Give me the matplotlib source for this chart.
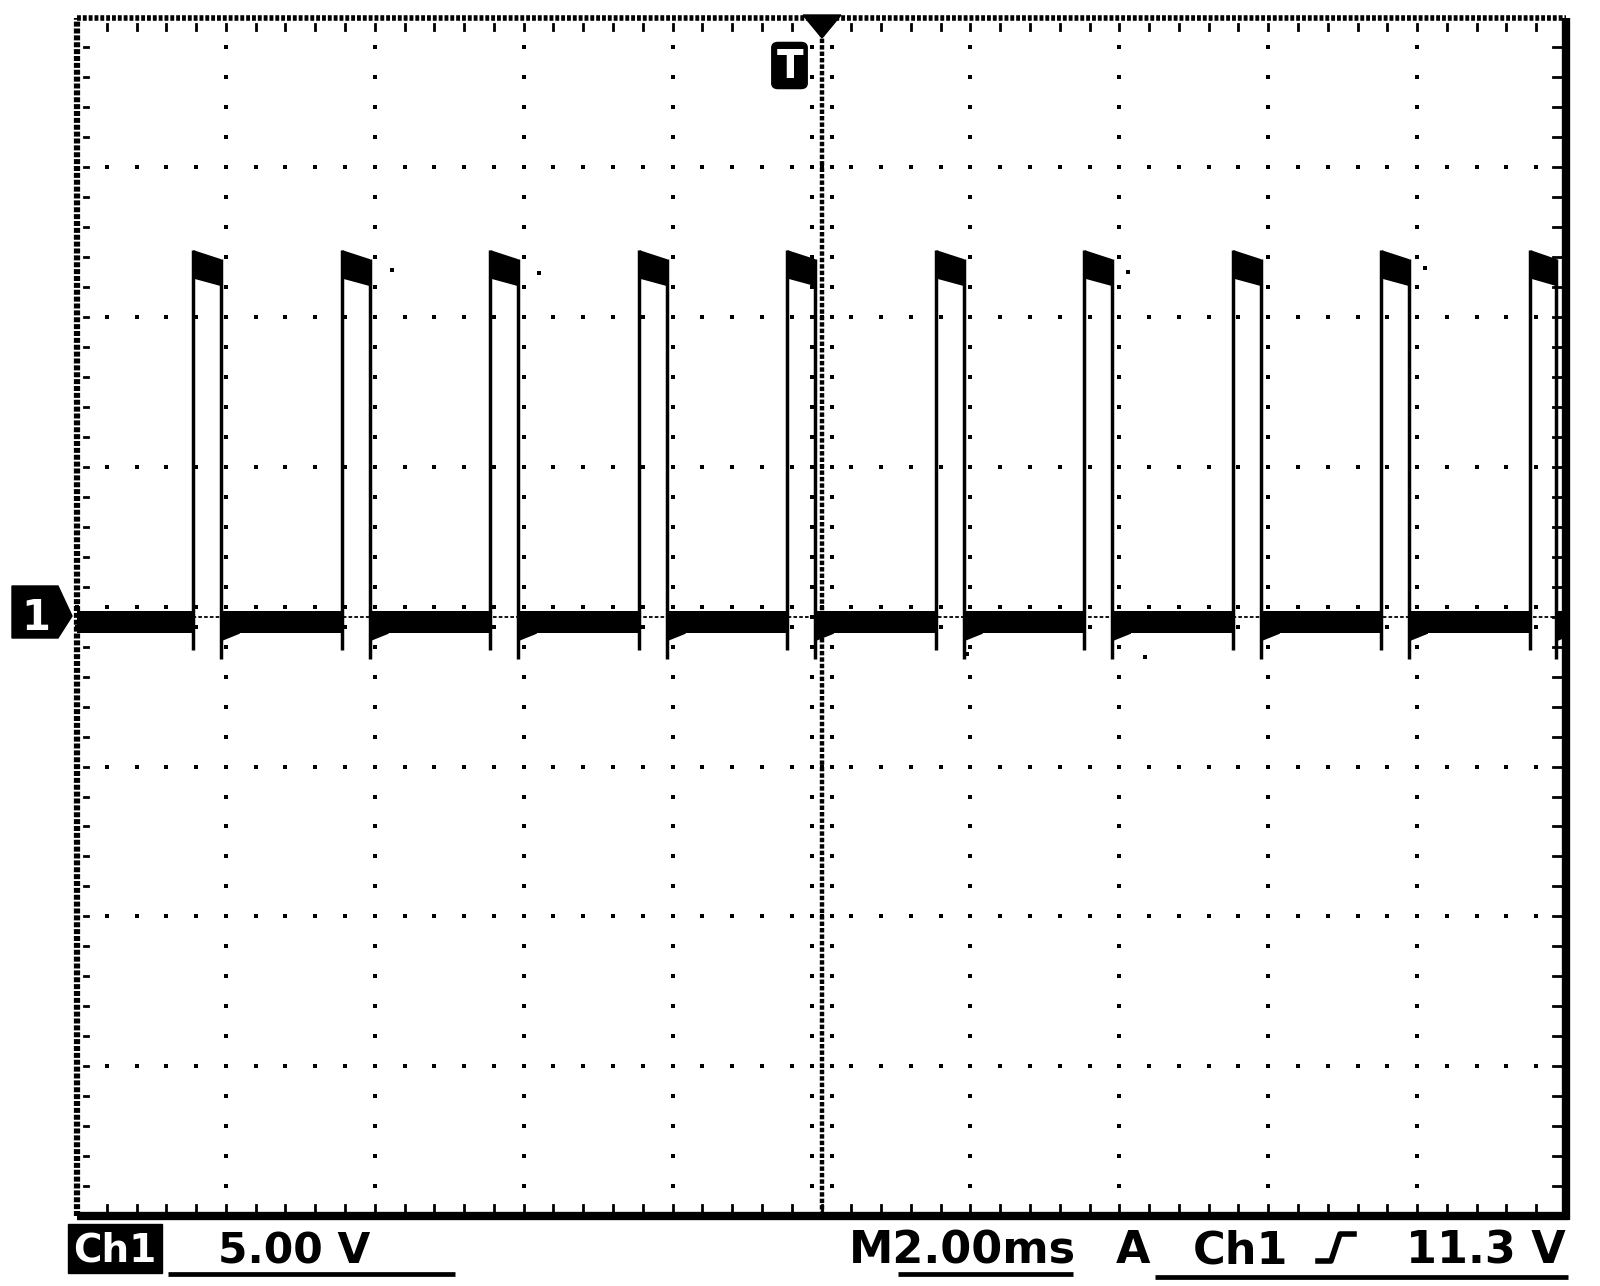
import numpy as np
import matplotlib.pyplot as plt
from matplotlib.patches import Polygon, FancyBboxPatch
from matplotlib.lines import Line2D

# scope screen: 10 x 8 divisions, 2 ms/div, 5 V/div, 0 at screen centre
ms_per_div = 2.0
volts_per_div = 5.0

# edges (ms)
rise_ms = [-8.44, -6.44, -4.45, -2.45, -0.46, 1.54, 3.53, 5.53, 7.52, 9.52]
fall_ms = [-8.07, -6.07, -4.08, -2.08, -0.09, 1.91, 3.90, 5.90, 7.89, 9.87]

# trace band levels (V)
high_top_v = [12.25, 11.95]      # at rise, at fall
high_bottom_v = [11.3, 11.05]
low_top_v = 0.2
low_bottom_v = -0.55
after_fall_bottom_v = -0.8
settle_ms = 0.25
rise_foot_v = -1.1
fall_foot_v = -1.4

# a few stray dots of the trace
stray_ms = [-5.77, -3.79, 4.12, 8.11, 1.95, 4.34, 9.95]
stray_v = [11.57, 11.47, 11.5, 11.65, -1.23, -1.33, 0.1]

ch_label = "Ch1"
volt_label = "5.00 V"
time_label = "M2.00ms"
trig_mode = "A"
trig_src = "Ch1"
trig_level = "11.3 V"

W, H = 1600, 1286
L, R, T, B = 77, 1566, 17.5, 1216
fig = plt.figure(figsize=(W / 100, H / 100), dpi=100)
ax = fig.add_axes([L / W, 1 - B / H, (R - L) / W, (B - T) / H])
xmax = 5 * ms_per_div
ymax = 4 * volts_per_div
ax.set_xlim(-xmax, xmax)
ax.set_ylim(-ymax, ymax)
ax.axis('off')

px_ms = (R - L) / (2 * xmax)
px_v = (B - T) / (2 * ymax)


def fp(x, y):
    return x / W, 1 - y / H


# graticule
minor_x = np.arange(-xmax, xmax + 1e-9, ms_per_div / 5)
minor_y = np.arange(-ymax, ymax + 1e-9, volts_per_div / 5)
dot = dict(ls='none', marker='s', ms=2.6, mew=0, color='k', clip_on=False)
for gx in np.arange(-xmax + ms_per_div, xmax - 1e-9, ms_per_div):
    if abs(gx) < 1e-9:
        continue
    ax.plot(np.full(len(minor_y) - 2, gx), minor_y[1:-1], **dot)
for gy in np.arange(-ymax + volts_per_div, ymax - 1e-9, volts_per_div):
    if abs(gy) < 1e-9:
        continue
    ax.plot(minor_x[1:-1], np.full(len(minor_x) - 2, gy), **dot)

# centre cross: dense dotted lines with side ticks
ax.plot([0, 0], [-ymax, ymax], color='k', lw=3.2, ls=(0, (1.0, 0.45)), clip_on=False)
ax.plot([-xmax, xmax], [0, 0], color='k', lw=1.3, ls=(0, (2.0, 1.2)), clip_on=False)
tx = 10 / px_ms
ty = 10 / px_v
for s in (-1, 1):
    ax.plot(np.full(len(minor_y), s * tx), minor_y, **dot)
    ax.plot(minor_x, np.full(len(minor_x), s * ty), **dot)

# border ticks
for gx in minor_x[1:-1]:
    ax.plot([gx, gx], [ymax - 7 / px_v, ymax - 12 / px_v], color='k', lw=2, clip_on=False)
    ax.plot([gx, gx], [-ymax + 4 / px_v, -ymax + 11 / px_v], color='k', lw=2, clip_on=False)
for gy in minor_y[1:-1]:
    ax.plot([-xmax + 7 / px_ms, -xmax + 11 / px_ms], [gy, gy], color='k', lw=2, clip_on=False)
    ax.plot([xmax - 4 / px_ms, xmax - 13 / px_ms], [gy, gy], color='k', lw=2, clip_on=False)

# border: top/left dotted, right/bottom solid
ax.plot([-xmax, xmax], [ymax, ymax], color='k', lw=4, ls=(0, (0.7, 0.35)), clip_on=False)
ax.plot([-xmax, -xmax], [-ymax, ymax], color='k', lw=4.5, ls=(0, (0.8, 0.3)), clip_on=False)
ax.plot([xmax, xmax], [-ymax - 4 / px_v, ymax], color='k', lw=6, solid_capstyle='butt', clip_on=False)
ax.plot([-xmax, xmax + 3 / px_ms], [-ymax, -ymax], color='k', lw=6, solid_capstyle='butt', clip_on=False)

# trace
starts = [-xmax] + fall_ms
ends = rise_ms + [xmax]
for a, b in zip(starts, ends):
    ax.fill_between([a, b], [low_bottom_v] * 2, [low_top_v] * 2, color='k', lw=0)
for f in fall_ms:
    ax.fill_between([f, f + settle_ms], [after_fall_bottom_v, low_bottom_v],
                    [low_top_v, low_top_v], color='k', lw=0)
for r, f in zip(rise_ms, fall_ms):
    ax.fill_between([r, f], high_bottom_v, high_top_v, color='k', lw=0)
    ax.plot([r, r], [rise_foot_v, high_top_v[0]], color='k', lw=2.5, solid_capstyle='butt')
    ax.plot([f, f], [high_top_v[1], fall_foot_v], color='k', lw=2.5, solid_capstyle='butt')
ax.plot(stray_ms, stray_v, ls='none', marker='s', ms=3, mew=0, color='k')

# channel 1 ground marker
fig.add_artist(Polygon([fp(12, 586), fp(58, 586), fp(72, 616), fp(58, 638), fp(12, 638)],
                       closed=True, color='k', transform=fig.transFigure))
font = dict(family=['DejaVu Sans'], weight='bold')
fig.text(*fp(36, 630), "1", color='white', fontsize=30, ha='center', va='baseline', **font)

# trigger marker
fig.add_artist(Polygon([fp(803, 15), fp(841, 15), fp(822, 38)], closed=True,
                       color='k', transform=fig.transFigure))
fig.add_artist(FancyBboxPatch(fp(775, 86), 29 / W, 41 / H,
                              boxstyle='round,pad=0.002,rounding_size=0.004',
                              color='k', transform=fig.transFigure))
fig.text(*fp(790, 78), "T", color='white', fontsize=28, ha='center', va='baseline', **font)

# readout line
fig.add_artist(Polygon([fp(68, 1224), fp(162, 1224), fp(162, 1273), fp(68, 1273)],
                       closed=True, color='k', transform=fig.transFigure))
fig.text(*fp(115, 1262), ch_label, color='white', fontsize=28, ha='center', va='baseline', **font)
fig.text(*fp(218, 1263), volt_label, color='k', fontsize=30.5, ha='left', va='baseline', **font)
fig.text(*fp(962, 1263), time_label, color='k', fontsize=32, ha='center', va='baseline', **font)
fig.text(*fp(1116, 1263), trig_mode, color='k', fontsize=32, ha='left', va='baseline', **font)
fig.text(*fp(1193, 1263), trig_src, color='k', fontsize=32, ha='left', va='baseline', **font)
fig.text(*fp(1566, 1263), trig_level, color='k', fontsize=32, ha='right', va='baseline', **font)

# rising-slope symbol
sx, sy = zip(*[fp(1318, 1261), fp(1331, 1261), fp(1340, 1234), fp(1354, 1234)])
fig.add_artist(Line2D(sx, sy, color='k', lw=4, transform=fig.transFigure))

# underlines
for x0, x1, y in [(168, 455, 1274), (898, 1073, 1274), (1155, 1568, 1277)]:
    lx, ly = zip(fp(x0, y), fp(x1, y))
    fig.add_artist(Line2D(lx, ly, color='k', lw=3.4, solid_capstyle='butt',
                          transform=fig.transFigure))

fig.savefig("out.png", dpi=100, facecolor='white')
